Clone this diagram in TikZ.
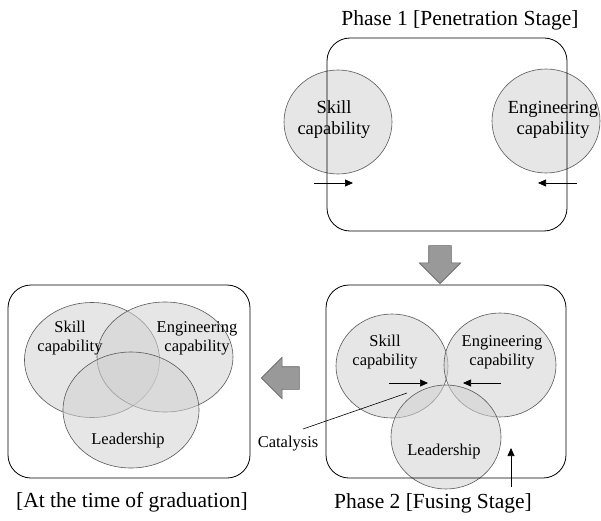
\documentclass[tikz,border=0pt]{standalone}
\usepackage{fontspec}
\setmainfont{Liberation Serif}
\usetikzlibrary{positioning,shapes.geometric,shapes.arrows,arrows.meta}
\tikzset{
  stage/.style={draw,rounded corners=23pt,minimum width=240pt,minimum height=193pt,line width=0.8pt},
  ability/.style={ellipse,draw=black!65,fill=black!18,fill opacity=0.55,draw opacity=1,inner sep=0pt,line width=0.6pt},
  title/.style={font=\fontsize{21.5}{24}\selectfont,inner sep=0pt},
  lbig/.style={font=\fontsize{18.5}{21}\selectfont,align=center,inner sep=0pt},
  lsmall/.style={font=\fontsize{16.5}{19}\selectfont,align=center,inner sep=0pt},
  push/.style={-{Triangle[length=8pt,width=7pt]},line width=0.7pt},
  flow/.style={single arrow,draw=black!60,fill=black!40,inner sep=11pt,single arrow head extend=9.5pt,single arrow head indent=0pt,minimum height=38pt,line width=0.6pt},
}
\begin{document}
\begin{tikzpicture}[x=1pt,y=1pt]
            \useasboundingbox (0,0) rectangle (601,520);
            \node[ability,minimum width=108pt,minimum height=104pt] (s1) at (338,398) {};
            \node[ability,minimum width=108pt,minimum height=104pt] (e1) at (546,399) {};
            \node[stage] (p1) at (447,385.5) {};
            \node[lbig] (ts1) at (334,400) {Skill\\capability};
            \node[lbig] (te1) at (553,400) {Engineering\\capability};
            \node[title] (h1) at (460,500) {Phase 1 [Penetration Stage]};
            \coordinate (a1) at (314,337);
            \coordinate (b1) at (353,337);
            \coordinate (a2) at (577,337);
            \coordinate (b2) at (538,337);
            \draw[push] (a1) -- (b1);
            \draw[push] (a2) -- (b2);

            \node[flow,shape border rotate=270] (d1) at (440,261) {};

            \node[ability,minimum width=112pt,minimum height=104pt] (s2) at (392,154) {};
            \node[ability,minimum width=112pt,minimum height=104pt] (e2) at (500,155) {};
            \node[ability,minimum width=110pt,minimum height=104pt] (l2) at (446,83) {};
            \node[stage] (p2) at (446,138.5) {};
            \node[lsmall] (ts2) at (385,168) {Skill\\capability};
            \node[lsmall] (te2) at (502,168) {Engineering\\capability};
            \node[lsmall] (tl2) at (444,68) {Leadership};
            \node[title] (h2) at (433,17) {Phase 2 [Fusing Stage]};
            \coordinate (a3) at (389,137);
            \coordinate (b3) at (428,137);
            \coordinate (a4) at (501,137);
            \coordinate (b4) at (463,137);
            \draw[push] (a3) -- (b3);
            \draw[push] (a4) -- (b4);
            \node[lsmall] (ct) at (288,76) {Catalysis};
            \coordinate (c1) at (303,91);
            \coordinate (c2) at (407,127);
            \draw[line width=0.6pt] (c1) -- (c2);
            \coordinate (a5) at (511,33);
            \coordinate (b5) at (511,72);
            \draw[push] (a5) -- (b5);

            \node[flow,shape border rotate=180] (d2) at (286,142) {};

            \node[ability,minimum width=135pt,minimum height=115pt] (s3) at (92,160) {};
            \node[ability,minimum width=136pt,minimum height=110pt] (e3) at (165,163) {};
            \node[ability,minimum width=136pt,minimum height=116pt] (l3) at (131,110) {};
            \node[stage,minimum width=242pt] (p3) at (129,138.5) {};
            \node[lsmall] (ts3) at (70,182) {Skill\\capability};
            \node[lsmall] (te3) at (197,182) {Engineering\\capability};
            \node[lsmall] (tl3) at (128,79) {Leadership};
            \node[title] (h3) at (132,18) {[At the time of graduation]};
\end{tikzpicture}
\end{document}
